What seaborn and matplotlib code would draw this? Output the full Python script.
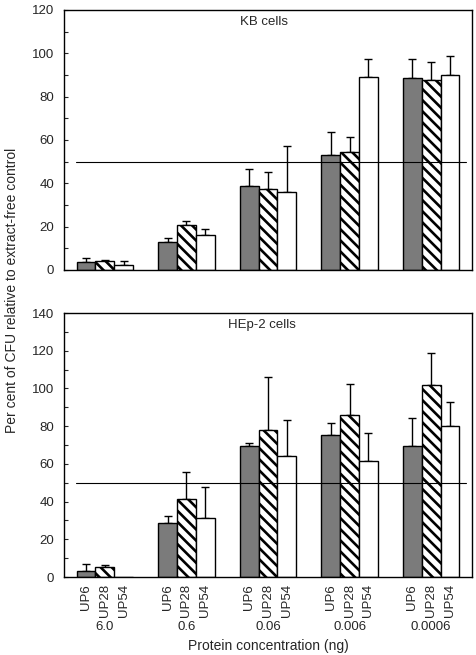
import numpy as np
import pandas as pd
import matplotlib
matplotlib.use("Agg")
import matplotlib.pyplot as plt
import matplotlib.transforms as mtransforms
from matplotlib.ticker import MultipleLocator
import seaborn as sns

# ---------------- data ----------------
concentrations = ["6.0", "0.6", "0.06", "0.006", "0.0006"]
strains = ["UP6", "UP28", "UP54"]

kb_up6 = [3.7, 12.7, 39.0, 53.1, 88.5]
kb_up28 = [4.0, 21.0, 37.2, 54.5, 87.5]
kb_up54 = [2.3, 16.1, 35.8, 88.9, 90.0]
kb_up6_err = [1.7, 2.2, 7.5, 10.4, 9.0]
kb_up28_err = [0.5, 1.8, 8.0, 6.7, 8.3]
kb_up54_err = [2.0, 2.8, 21.5, 8.6, 8.8]

hep_up6 = [3.4, 28.6, 69.6, 75.3, 69.3]
hep_up28 = [5.1, 41.4, 77.7, 85.9, 101.8]
hep_up54 = [0.0, 31.3, 64.3, 61.5, 79.9]
hep_up6_err = [3.5, 3.5, 1.4, 6.4, 15.0]
hep_up28_err = [1.1, 14.1, 28.3, 16.4, 17.2]
hep_up54_err = [np.nan, 16.4, 19.1, 14.9, 13.1]

panel_titles = ["KB cells", "HEp-2 cells"]
reference_level = 50
ylabel = "Per cent of CFU relative to extract-free control"
xlabel = "Protein concentration (ng)"


def make_table(means, errs):
    rows = []
    for s, m_list, e_list in zip(strains, means, errs):
        for c, m, e in zip(concentrations, m_list, e_list):
            rows.append({"conc": c, "strain": s, "value": m, "err": e})
    return pd.DataFrame(rows)


kb_df = make_table([kb_up6, kb_up28, kb_up54], [kb_up6_err, kb_up28_err, kb_up54_err])
hep_df = make_table([hep_up6, hep_up28, hep_up54], [hep_up6_err, hep_up28_err, hep_up54_err])

# ---------------- style ----------------
sns.set_style("ticks")
plt.rcParams["font.family"] = ["Liberation Sans", "DejaVu Sans"]
plt.rcParams["hatch.linewidth"] = 1.9
plt.rcParams["hatch.color"] = "black"

W, H = 476, 655
fig = plt.figure(figsize=(W / 100, H / 100), dpi=100)

left, right = 64 / W, 472 / W
ax_top = fig.add_axes([left, 1 - 270 / H, right - left, 260 / H])
ax_bot = fig.add_axes([left, 1 - 577 / H, right - left, 264 / H])

palette = {"UP6": "#7b7b7b", "UP28": "white", "UP54": "white"}
fs = 9.5


def draw_panel(ax, df, ymax, title, tx, ty):
    sns.barplot(data=df, x="conc", y="value", hue="strain", order=concentrations,
                hue_order=strains, palette=palette, edgecolor="black", linewidth=1.0,
                saturation=1, width=0.69, errorbar=None, legend=False, ax=ax, zorder=2)
    bar_conts = list(ax.containers)
    positions = []
    for k, cont in enumerate(bar_conts):
        sub = df[df["strain"] == strains[k]].set_index("conc").loc[concentrations]
        xs = []
        for p in cont.patches:
            if strains[k] == "UP28":
                p.set_hatch("\\\\\\")
            xs.append(p.get_x() + p.get_width() / 2)
        xs = np.array(xs)
        positions.append(xs)
        vals = sub["value"].to_numpy()
        errs = sub["err"].to_numpy()
        ok = np.isfinite(errs)
        ax.errorbar(xs[ok], vals[ok], yerr=[np.zeros(ok.sum()), errs[ok]], fmt="none",
                    ecolor="black", elinewidth=1.0, capsize=3.2, capthick=1.0, zorder=1)
    ax.axhline(reference_level, xmin=12 / 408, xmax=402 / 408, color="black", lw=0.8, zorder=3)
    ax.set_xlim(-0.5, len(concentrations) - 0.5)
    ax.set_ylim(0, ymax)
    ax.yaxis.set_major_locator(MultipleLocator(20))
    ax.yaxis.set_minor_locator(MultipleLocator(10))
    ax.tick_params(axis="y", which="both", direction="in", length=3, width=0.8,
                   labelsize=fs, pad=7)
    ax.set_xlabel("")
    ax.set_ylabel("")
    for s in ax.spines.values():
        s.set_visible(True)
        s.set_linewidth(1.0)
        s.set_color("black")
    ax.text(tx, ty, title, transform=ax.transAxes, fontsize=fs, ha="left", va="center")
    return positions


draw_panel(ax_top, kb_df, 120, panel_titles[0], 0.431, 0.954)
pos = draw_panel(ax_bot, hep_df, 140, panel_titles[1], 0.402, 0.955)

ax_top.set_xticks([])
ax_top.tick_params(axis="x", length=0)

# per-bar strain labels on bottom panel
tick_x = []
tick_lab = []
for k, xs in enumerate(pos):
    tick_x.extend(xs)
    tick_lab.extend([strains[k]] * len(xs))
order = np.argsort(tick_x)
ax_bot.set_xticks(np.array(tick_x)[order])
ax_bot.set_xticklabels(np.array(tick_lab)[order], rotation=90, fontsize=fs,
                       va="top", ha="center")
ax_bot.tick_params(axis="x", length=0, pad=5)

trans = mtransforms.blended_transform_factory(ax_bot.transData, fig.transFigure)
for i, c in enumerate(concentrations):
    ax_bot.text(i, 1 - 627 / H, c, transform=trans, ha="center", va="center", fontsize=fs)

fig.text((64 + 408 / 2) / W, 1 - 646 / H, xlabel, ha="center", va="center", fontsize=fs + 0.5)
fig.text(12 / W, 1 - 290 / H, ylabel, rotation=90, ha="center", va="center", fontsize=fs + 0.5)

fig.savefig("out.png", dpi=100)
